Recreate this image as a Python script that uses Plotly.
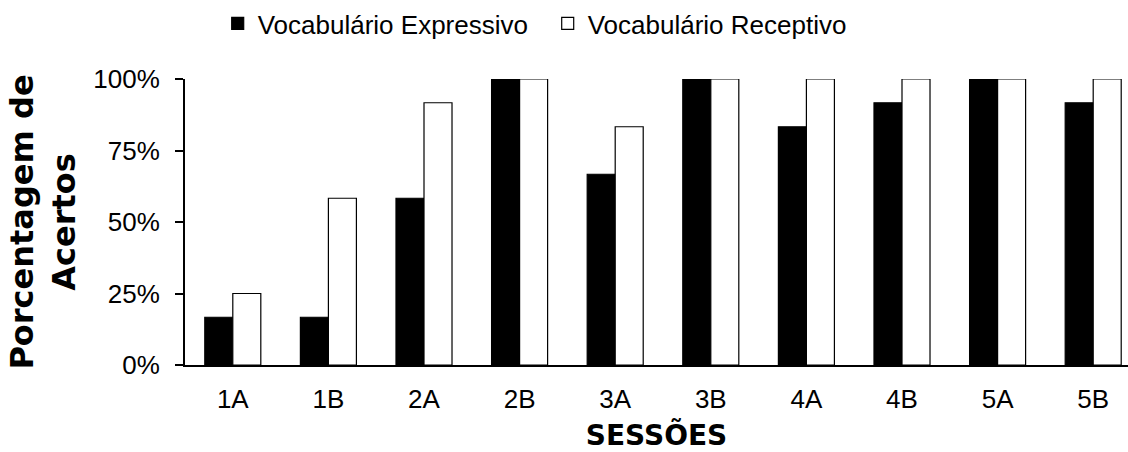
import plotly.graph_objects as go

sessions = ["1A", "1B", "2A", "2B", "3A", "3B", "4A", "4B", "5A", "5B"]
expressivo = [0.167, 0.167, 0.583, 1.0, 0.667, 1.0, 0.833, 0.917, 1.0, 0.917]
receptivo = [0.25, 0.583, 0.917, 1.0, 0.833, 1.0, 1.0, 1.0, 1.0, 1.0]
y_ticks = [0, 0.25, 0.5, 0.75, 1.0]
y_ticklabels = ["0%", "25%", "50%", "75%", "100%"]

fig = go.Figure()
fig.add_trace(go.Bar(x=sessions, y=expressivo, name="Vocabulário Expressivo",
                     marker=dict(color="black", line=dict(color="black", width=1.2))))
fig.add_trace(go.Bar(x=sessions, y=receptivo, name="Vocabulário Receptivo",
                     marker=dict(color="white", line=dict(color="black", width=1.2))))

fig.update_layout(
    width=1128, height=452,
    margin=dict(l=185, r=0, t=79, b=87),
    paper_bgcolor="white", plot_bgcolor="white",
    barmode="group", bargap=0.414, bargroupgap=0,
    font=dict(family="Liberation Sans", size=26, color="black"),
    legend=dict(orientation="h", xref="container", yref="container",
                x=0.193, y=1.0, xanchor="left", yanchor="top",
                font=dict(family="Liberation Sans", size=26, color="black"),
                entrywidth=285, entrywidthmode="pixels"),
    xaxis=dict(range=[-0.5, 9.364], showline=True, linecolor="black", linewidth=2,
               ticks="", showgrid=False, ticklabelstandoff=10, automargin=False,
               tickfont=dict(size=26),
               title=dict(text="SESSÕES", font=dict(family="DejaVu Sans", size=28, weight="bold"),
                          standoff=20)),
    yaxis=dict(range=[0, 1], tickvals=y_ticks, ticktext=y_ticklabels,
               showline=True, linecolor="black", linewidth=2,
               ticks="outside", ticklen=8, tickwidth=2, tickcolor="black",
               showgrid=False, zeroline=False, ticklabelstandoff=10, automargin=False,
               tickfont=dict(size=26),
               title=dict(text="Porcentagem de<br>Acertos",
                          font=dict(family="DejaVu Sans", size=32, weight="bold"),
                          standoff=8)),
)

fig.write_html("out.html")
